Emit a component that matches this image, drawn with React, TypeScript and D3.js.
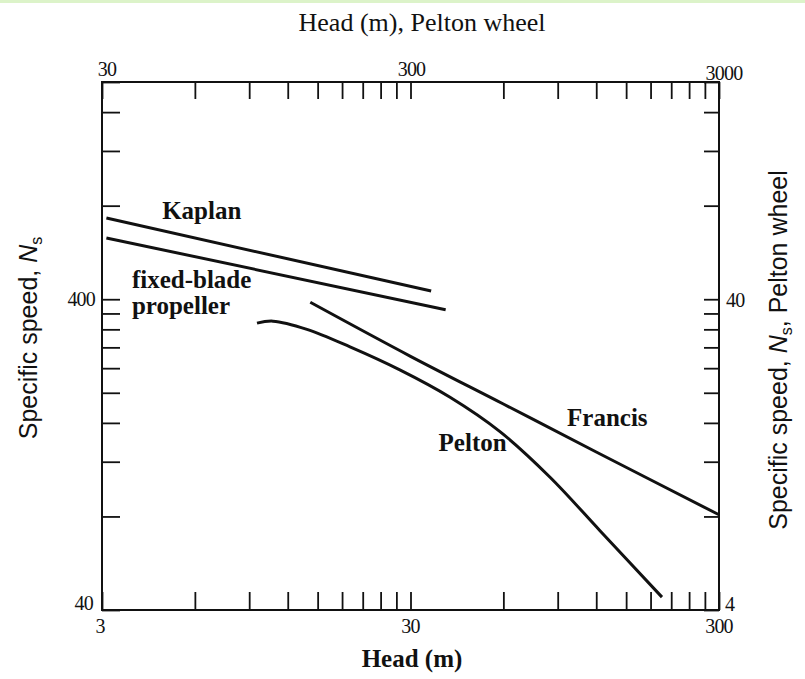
import React, { useEffect, useRef } from 'react';
import * as d3 from 'd3';

// head (m) -> specific speed Ns
const kaplan: [number, number][] = [[3.1, 730], [35, 425]];
const fixedBlade: [number, number][] = [[3.1, 630], [39, 370]];
const francis: [number, number][] = [[14.2, 391], [30, 262], [60, 184], [120, 129], [300, 81]];
const pelton: [number, number][] = [
    [9.54, 335], [10.75, 340], [13.85, 320], [19.1, 281], [27.7, 237],
    [40.3, 193.5], [58.5, 150], [85, 107], [123.4, 72], [196, 44]
];

const curveLabels = [
    { text: 'Kaplan', h: 4.7, ns: 726 },
    { text: 'fixed-blade', h: 3.75, ns: 435 },
    { text: 'propeller', h: 3.75, ns: 358 },
    { text: 'Francis', h: 96.5, ns: 156 },
    { text: 'Pelton', h: 37, ns: 130 }
];

const bottomTicks = [3, 6, 9, 12, 15, 18, 21, 24, 27, 30, 60, 90, 120, 150, 180, 210, 240, 270, 300];
const topTicks = [30, 60, 90, 120, 150, 180, 210, 240, 270, 300, 600, 900, 1200, 1500, 1800, 2100, 2400, 2700, 3000];
const leftTicks = [40, 80, 120, 160, 200, 240, 280, 320, 360, 400, 800, 1200, 1600, 2000];
const rightTicks = [4, 8, 12, 16, 20, 24, 28, 32, 36, 40, 80, 120, 160, 200];
const bottomLabels = ['3', '30', '300'];
const topLabels = ['30', '300', '3000'];

const W = 805;
const H = 679;
const L = 102, R = 719, T = 82, B = 610;

const App: React.FC = () => {
    const svgRef = useRef<SVGSVGElement>(null);

    useEffect(() => {
        if (!svgRef.current) return;
        const svg = d3.select(svgRef.current);
        svg.selectAll('*').remove();

        const x = d3.scaleLog().domain([3, 300]).range([L, R]);
        const xTop = d3.scaleLog().domain([30, 3000]).range([L, R]);
        const y = d3.scaleLog().domain([40, 2000]).range([B, T]);
        const yRight = d3.scaleLog().domain([4, 200]).range([B, T]);

        const serif = 'Liberation Serif, Times New Roman, serif';
        const sans = 'Liberation Sans, Arial, sans-serif';

        // green strip at the top of the page
        svg.append('rect').attr('x', 0).attr('y', 0).attr('width', W).attr('height', 3).attr('fill', '#dcf3c9');

        // axes with inward ticks
        const styleAxis = (g: d3.Selection<SVGGElement, unknown, null, undefined>) => {
            g.select('.domain').remove();
            g.selectAll('.tick line').attr('stroke', '#111').attr('stroke-width', 1.8);
            g.selectAll('.tick text').remove();
        };
        svg.append('g').attr('transform', `translate(0,${B})`)
            .call(d3.axisBottom(x).tickValues(bottomTicks).tickSize(-18)).call(styleAxis);
        svg.append('g').attr('transform', `translate(0,${T})`)
            .call(d3.axisTop(xTop).tickValues(topTicks).tickSize(-17)).call(styleAxis);
        svg.append('g').attr('transform', `translate(${L},0)`)
            .call(d3.axisLeft(y).tickValues(leftTicks).tickSize(-18)).call(styleAxis);
        svg.append('g').attr('transform', `translate(${R},0)`)
            .call(d3.axisRight(yRight).tickValues(rightTicks).tickSize(-15)).call(styleAxis);

        // frame
        svg.append('rect').attr('x', L).attr('y', T).attr('width', R - L).attr('height', B - T)
            .attr('fill', 'none').attr('stroke', '#111').attr('stroke-width', 2);

        // tick labels
        const lbl = svg.append('g').attr('font-family', serif).attr('font-size', 20).attr('fill', '#111')
            .attr('letter-spacing', -0.8);
        const bottomShift = [-2, 0, 0];
        bottomLabels.forEach((v, i) => {
            lbl.append('text').attr('x', x(+v) + bottomShift[i]).attr('y', B + 23).attr('text-anchor', 'middle').text(v);
        });
        const topShift = [5, 1, 5];
        topLabels.forEach((v, i) => {
            lbl.append('text').attr('x', xTop(+v) + topShift[i]).attr('y', T - 6 + (i === 2 ? 4 : 0))
                .attr('text-anchor', 'middle').text(v);
        });
        lbl.append('text').attr('x', L - 7).attr('y', y(400) + 7).attr('text-anchor', 'end').text('400');
        lbl.append('text').attr('x', L - 9).attr('y', y(40)).attr('text-anchor', 'end').text('40');
        lbl.append('text').attr('x', R + 7).attr('y', yRight(40) + 8).text('40');
        lbl.append('text').attr('x', R + 6).attr('y', yRight(4) + 1).text('4');

        // axis titles
        svg.append('text').attr('x', 422).attr('y', 31).attr('text-anchor', 'middle')
            .attr('font-family', serif).attr('font-size', 26).attr('fill', '#111').text('Head (m), Pelton wheel');
        svg.append('text').attr('x', 412).attr('y', 667).attr('text-anchor', 'middle')
            .attr('font-family', serif).attr('font-size', 25).attr('font-weight', 'bold').attr('fill', '#111').text('Head (m)');

        const leftTitle = svg.append('text').attr('transform', `translate(37,338) rotate(-90)`)
            .attr('text-anchor', 'middle').attr('font-family', sans).attr('font-size', 25).attr('fill', '#111');
        leftTitle.append('tspan').text('Specific speed, ');
        leftTitle.append('tspan').attr('font-style', 'italic').text('N');
        leftTitle.append('tspan').attr('font-size', 16).attr('dy', 5).text('s');

        const rightTitle = svg.append('text').attr('transform', `translate(787,350) rotate(-90)`)
            .attr('text-anchor', 'middle').attr('font-family', sans).attr('font-size', 25).attr('fill', '#111');
        rightTitle.append('tspan').text('Specific speed, ');
        rightTitle.append('tspan').attr('font-style', 'italic').text('N');
        rightTitle.append('tspan').attr('font-size', 16).attr('dy', 5).text('s');
        rightTitle.append('tspan').attr('dy', -5).text(', Pelton wheel');

        // curves
        const line = d3.line<[number, number]>()
            .x(d => x(d[0]))
            .y(d => y(d[1]))
            .curve(d3.curveCatmullRom.alpha(0.5));
        [kaplan, fixedBlade, francis, pelton].forEach(series => {
            svg.append('path').datum(series).attr('d', line)
                .attr('fill', 'none').attr('stroke', '#111').attr('stroke-width', 3)
                .attr('stroke-linecap', 'butt');
        });

        // curve labels
        curveLabels.forEach(c => {
            svg.append('text').attr('x', x(c.h)).attr('y', y(c.ns))
                .attr('font-family', serif).attr('font-size', 25).attr('font-weight', 'bold')
                .attr('fill', '#111').text(c.text);
        });
    }, []);

    return (
        <svg ref={svgRef} width={W} height={H}
            style={{ position: 'absolute', left: 0, top: 0, background: '#fff' }} />
    );
};

export default App;
